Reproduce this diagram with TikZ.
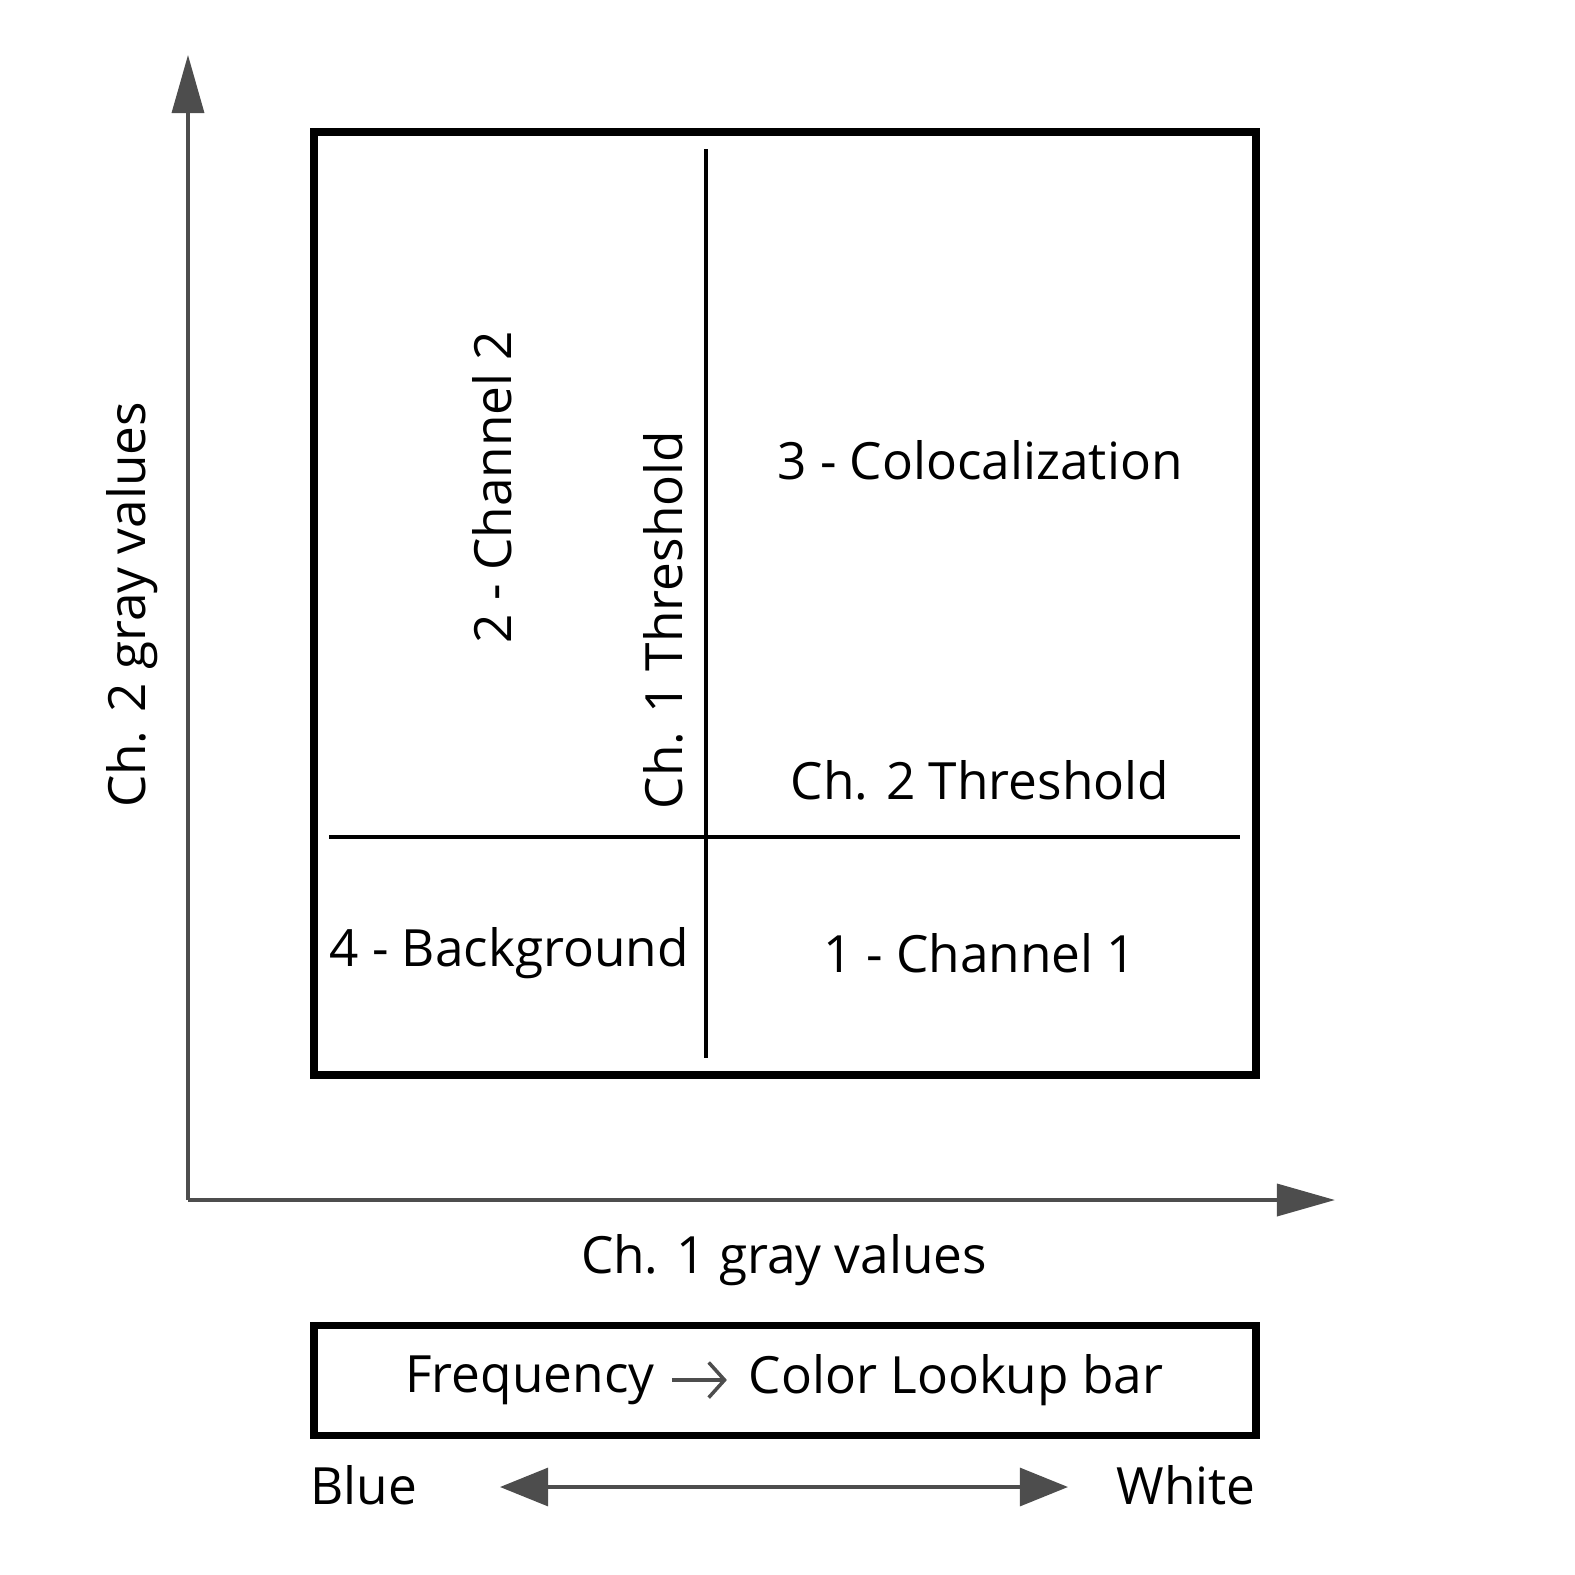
\documentclass[tikz,border=0pt]{standalone}
\usepackage{fontspec}
\setmainfont{Open Sans}
\usetikzlibrary{arrows.meta}
\definecolor{ax}{HTML}{4D4D4D}
\begin{document}
\begin{tikzpicture}[x=0.01cm,y=-0.01cm,
  txt/.style={inner sep=0pt,font=\fontsize{14.6pt}{18pt}\selectfont},
  axis/.style={ax,line width=1pt,-{Triangle[length=16.5pt,width=9.1pt]}},
  thin/.style={line width=0.9pt}]
\useasboundingbox (0,0) rectangle (1575,1575);
\coordinate (o) at (188,1200);
\coordinate (yt) at (188,55);
\coordinate (xt) at (1335,1200);
\draw[axis] (o) -- (yt);
\draw[axis] (o) -- (xt);
\draw[line width=2pt] (314,132) rectangle (1256,1075);
\coordinate (v1) at (706,149); \coordinate (v2) at (706,1058);
\coordinate (h1) at (329,837); \coordinate (h2) at (1240,837);
\draw[thin] (v1) -- (v2);
\draw[thin] (h1) -- (h2);
\node[txt,rotate=90] (c2) at (492,487) {2 - Channel 2};
\node[txt,rotate=90] (t1) at (663,620) {Ch. 1 Threshold};
\node[txt] (co) at (980,460) {3 - Colocalization};
\node[txt] (t2) at (980,780) {Ch. 2 Threshold};
\node[txt] (bg) at (509,953) {4 - Background};
\node[txt] (c1) at (980,953) {1 - Channel 1};
\node[txt,rotate=90] (yl) at (132,605) {Ch. 2 gray values};
\node[txt] (xl) at (784,1260) {Ch. 1 gray values};
\draw[line width=2pt] (314,1325) rectangle (1256,1435);
\node[txt,anchor=east] (fr) at (655,1380) {Frequency};
\node[txt,anchor=west] (cl) at (748,1380) {Color Lookup bar};
\draw[ax,line width=1pt,-{Straight Barb[length=4.5pt,width=10pt,line width=1pt]}] ([xshift=4.8pt]fr.east) -- ([xshift=-6pt]cl.west);
\node[txt] (bl) at (364,1485) {Blue};
\node[txt] (wh) at (1186,1485) {White};
\draw[ax,line width=1pt,{Triangle[length=13.7pt,width=10.8pt]}-{Triangle[length=13.7pt,width=10.8pt]}] (500,1487) -- (1068,1487);
\end{tikzpicture}
\end{document}
